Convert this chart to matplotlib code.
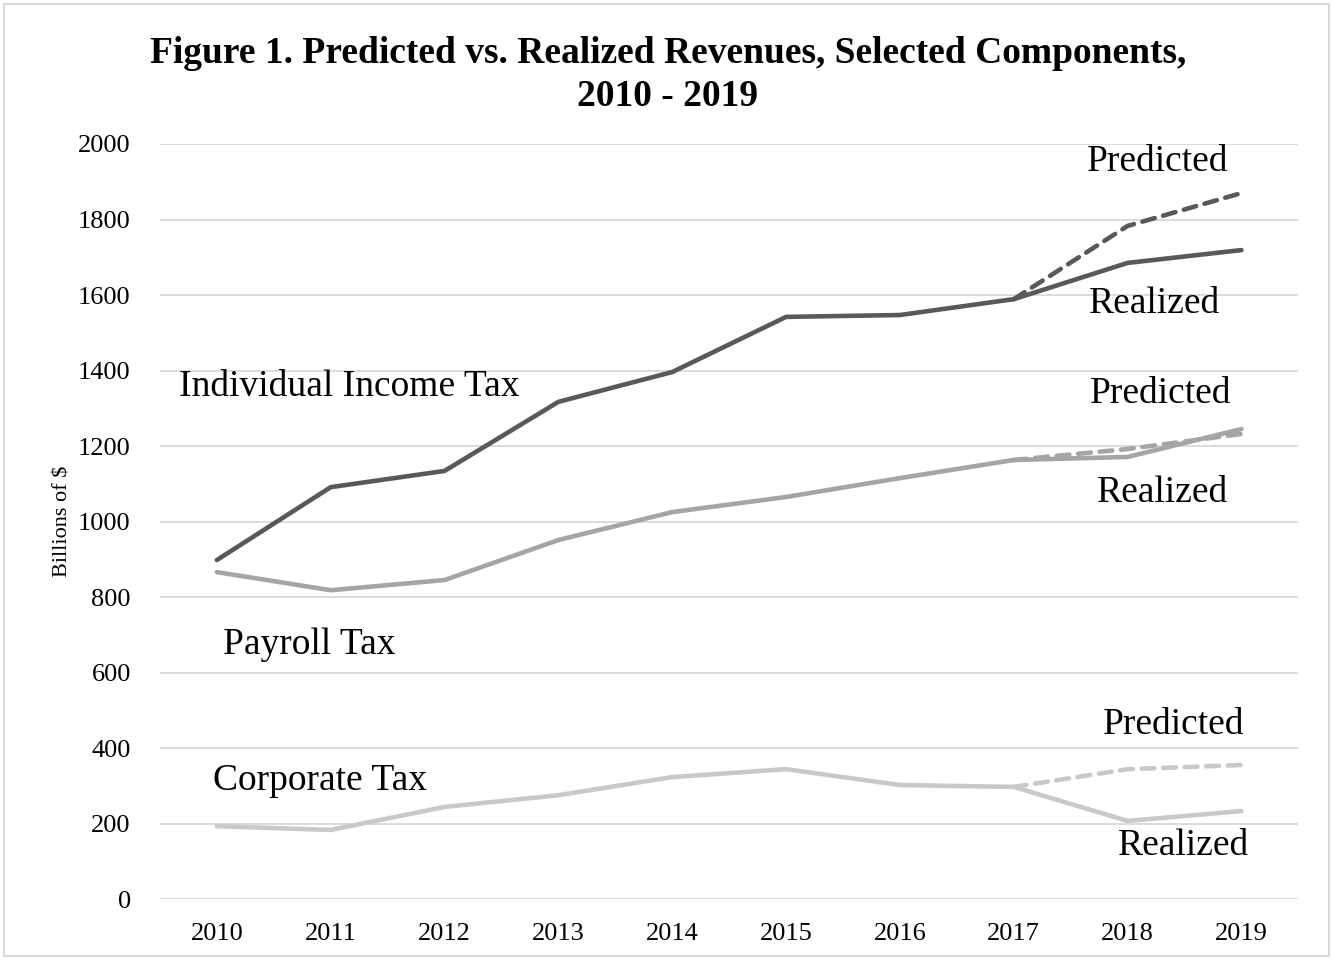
"""
Figure 1 - Predicted vs. Realized Revenues, Selected Components, 2010-2019
"""

import matplotlib
matplotlib.use("Agg")
import matplotlib.pyplot as plt
from matplotlib.patches import Rectangle

plt.rcParams["font.family"] = ["Liberation Serif", "DejaVu Serif"]

years = ["2010", "2011", "2012", "2013", "2014", "2015", "2016", "2017", "2018", "2019"]

# Billions of $
indiv_realized = [898, 1091, 1134, 1317, 1396, 1542, 1547, 1589, 1685, 1719]
indiv_predicted = [1589, 1783, 1870]  # 2017-2019
payroll_realized = [866, 818, 845, 951, 1025, 1065, 1115, 1163, 1171, 1245]
payroll_predicted = [1163, 1192, 1232]
corp_realized = [193, 183, 244, 275, 323, 344, 302, 297, 207, 233]
corp_predicted = [297, 344, 355]

DARK = "#595959"
MID = "#A5A5A5"
LIGHT = "#C9C9C9"

fig = plt.figure(figsize=(13.33, 9.6), dpi=100)
ax = fig.add_axes([0.12, 0.0635, 0.854, 0.7865])

x = list(range(len(years)))
xp = x[-3:]

dash = (0, (2.8, 1.9))
ax.plot(x, indiv_realized, color=DARK, lw=3.3, solid_capstyle="round", zorder=3)
ax.plot(xp, indiv_predicted, color=DARK, lw=3.3, ls=dash, dash_capstyle="round", zorder=3)
ax.plot(x, payroll_realized, color=MID, lw=3.3, solid_capstyle="round", zorder=3)
ax.plot(xp, payroll_predicted, color=MID, lw=3.3, ls=dash, dash_capstyle="round", zorder=3)
ax.plot(x, corp_realized, color=LIGHT, lw=3.3, solid_capstyle="round", zorder=3)
ax.plot(xp, corp_predicted, color=LIGHT, lw=3.3, ls=dash, dash_capstyle="round", zorder=3)

ax.set_xlim(-0.5, 9.5)
ax.set_ylim(0, 2000)
ax.set_yticks(range(0, 2001, 200))
ax.set_xticks(x)
ax.set_xticklabels(years)
ax.tick_params(axis="both", length=0, labelsize=19)
ax.tick_params(axis="x", pad=17)
ax.tick_params(axis="y", pad=21)
ax.grid(axis="y", color="#D9D9D9", lw=1.3)
ax.set_axisbelow(True)
for s in ax.spines.values():
    s.set_visible(False)

ax.set_ylabel("Billions of $", fontsize=16, labelpad=4)

# annotations
lab = dict(fontsize=27, ha="center", va="center", color="black")
ax.text(8.26, 1952, "Predicted", **lab)
ax.text(8.24, 1576, "Realized", **lab)
ax.text(1.16, 1356, "Individual Income Tax", **lab)
ax.text(8.29, 1338, "Predicted", **lab)
ax.text(8.31, 1075, "Realized", **lab)
ax.text(0.81, 673, "Payroll Tax", **lab)
ax.text(8.40, 461, "Predicted", **lab)
ax.text(0.91, 313, "Corporate Tax", **lab)
ax.text(8.49, 140, "Realized", **lab)

fig.text(0.501, 0.922, "Figure 1. Predicted vs. Realized Revenues, Selected Components,\n2010 - 2019",
         ha="center", va="center", fontsize=27, fontweight="bold", linespacing=1.3)

fig.patches.append(Rectangle((0.003, 0.004), 0.994, 0.992, transform=fig.transFigure,
                             fill=False, edgecolor="#D9D9D9", lw=1.5))

fig.savefig("out.png", dpi=100)
